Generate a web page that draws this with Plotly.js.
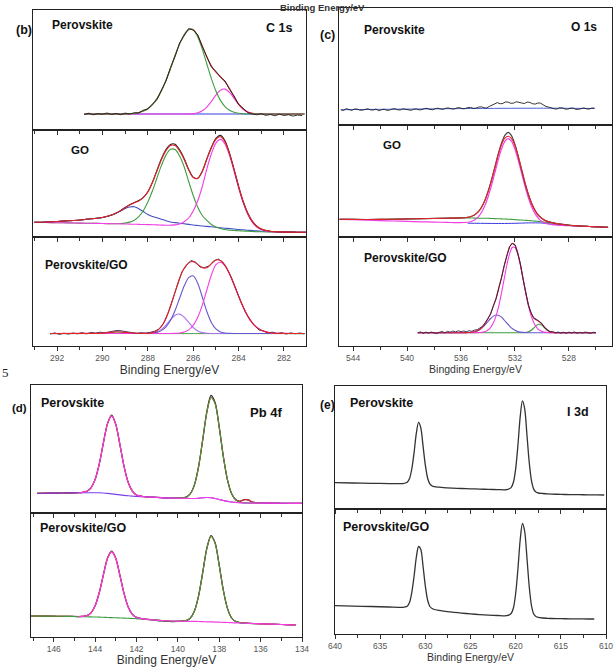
<!DOCTYPE html>
<html><head><meta charset="utf-8">
<script src="https://cdn.plot.ly/plotly-3.0.1.min.js"></script>
<style>html,body{margin:0;padding:0;background:#fff;}#chart{width:615px;height:667px;}</style>
</head><body><div id="chart"></div>
<script>
// ---------- (b) C 1s ----------
const b1E=[290.8,290.4,290.0,289.6,289.2,288.8,288.4,288.2,288.0,287.8,287.6,287.4,287.2,287.0,286.8,286.6,286.4,286.2,286.0,285.8,285.6,285.4,285.2,285.0,284.8,284.6,284.4,284.2,284.0,283.8,283.6,283.4,283.0,282.6,282.2,281.8,281.4,281.1];
const b1Green=[16,16,16,16,16,16.3,17.5,18.9,21.3,25.3,31.1,39.2,49.6,61.6,74.3,86.1,95.3,100.3,100.1,93.1,80.9,66.0,51.4,39.0,29.6,23.4,19.7,17.7,16.7,16.3,16,16,16,16,16,16,16,16];
const b1Pink=[16,16,16,16,16,16,16,16,16,16,16,16,16,16,16,16,16,16.1,16.4,17.2,19.2,22.9,28.5,34.9,39.8,40.9,37.7,31.7,25.5,20.8,18.0,16.7,16,16,16,16,16,16];
const b1Fit=[16,16,16,16,16,16.3,17.5,18.9,21.3,25.3,31.1,39.2,49.6,61.6,74.3,86.1,95.3,100.4,100.5,94.3,84.1,72.9,63.9,57.9,53.4,48.3,41.4,33.4,26.2,21.1,18.0,16.7,16,16,16,16,16,16];
const b1BgE=[290.8,281.1];
const b1Bg=[16,16];
const b1RawE=[290.8,290.6,290.4,290.2,290.0,289.8,289.6,289.4,289.2,289.0,288.8,288.6,288.4,288.2,288.0,287.8,287.6,287.4,287.2,287.0,286.8,286.6,286.4,286.2,286.0,285.8,285.6,285.4,285.2,285.0,284.8,284.6,284.4,284.2,284.0,283.8,283.6,283.4,283.2,283.0,282.8,282.6,282.4,282.2,282.0,281.8,281.6,281.4,281.2];
const b1Raw=[15.5,16.8,15.2,16.4,15.8,17.0,15.6,16.6,15.3,16.9,16.0,17.2,17.0,19.8,21.0,26.2,30.5,40.0,49.0,62.5,73.6,87.0,94.6,101.5,100.0,95.2,83.5,73.8,63.2,58.6,52.7,49.1,40.6,34.0,25.5,21.8,17.4,16.0,15.2,16.3,14.6,15.5,14.2,15.8,14.5,15.3,13.9,15.0,14.4];

const b2E=[293.0,292.5,292.0,291.5,291.0,290.5,290.0,289.5,289.2,289.0,288.8,288.6,288.4,288.2,288.0,287.8,287.6,287.4,287.2,287.0,286.8,286.6,286.4,286.2,286.0,285.8,285.6,285.4,285.2,285.0,284.8,284.6,284.4,284.2,284.0,283.8,283.6,283.4,283.2,283.0,282.6,282.2,281.8,281.4,281.0];
const b2Green=[14.7,14.5,14.3,14.1,13.9,13.7,13.5,13.25,13.45,13.86,14.86,16.81,20.43,26.3,34.9,45.95,58.8,71.6,81.9,87.7,87.4,81.1,70.3,55.5,41.5,29.8,21.5,16.6,12.5,10.0,8.5,7.55,6.8,6.5,6.2,6.0,5.7,5.5,5.3,5.2,5.0,4.95,4.85,4.75,4.7];
const b2Pink=[14.7,14.5,14.3,14.1,13.9,13.7,13.5,13.25,13.1,13.0,12.9,12.75,12.65,12.5,12.4,12.25,12.1,11.9,11.7,11.83,12.09,13.03,15.28,19.0,26.0,36.2,50.5,68.2,83.2,93.95,97.6,93.15,81.6,65.9,49.2,34.35,22.8,14.86,9.98,7.33,5.33,4.95,4.85,4.75,4.7];
const b2Blue=[14.7,15.0,15.5,16.2,17.0,18.2,19.5,22.8,26.0,28.5,30.0,30.3,28.3,25.5,22.5,20.5,19.3,17.8,16.2,15.0,14.4,13.8,13.2,12.6,12.0,11.5,11.0,10.6,10.2,9.7,9.3,8.8,8.4,8.0,7.5,7.2,6.8,6.5,6.1,5.8,5.4,5.1,4.9,4.8,4.7];
const b2Fit=[14.7,15.0,15.5,16.2,17.0,18.2,19.5,22.8,26.35,29.36,31.96,34.36,36.08,39.3,45.0,54.2,66.0,77.5,86.4,91.5,91.5,86.1,77.6,67.0,59.5,58.5,65.5,77.8,89.1,97.6,100.2,95.1,83.2,67.4,50.5,35.55,23.9,15.86,10.78,7.93,5.73,5.1,4.9,4.8,4.7];
const b2Raw=[14.7,15.0,15.5,16.2,17.0,18.2,19.5,22.8,26.4,29.5,32.2,34.6,36.4,39.6,45.3,54.6,66.5,78.2,87.4,92.6,92.8,87.2,78.5,67.6,59.9,58.8,65.8,78.2,89.7,98.6,101.6,96.3,83.9,67.8,50.7,35.7,24.0,15.9,10.8,7.9,5.7,5.1,4.9,4.8,4.7];

const b3E=[292.3,291.0,290.0,289.6,289.4,289.2,288.8,288.4,288.0,287.8,287.6,287.4,287.2,287.0,286.8,286.6,286.4,286.2,286.0,285.8,285.6,285.4,285.2,285.0,284.8,284.6,284.4,284.2,284.0,283.8,283.6,283.4,283.2,283.0,282.8,282.6,282.4,282.2,281.6,281.1];
const b3Blue=[12.5,12.5,12.5,12.5,12.5,12.5,12.5,12.5,12.6,12.9,13.6,15.4,19.1,25.7,35.5,47.8,59.9,68.4,70.2,62.8,49.0,34.5,23.6,17.1,14.1,13.0,12.7,12.55,12.5,12.5,12.5,12.5,12.5,12.5,12.5,12.5,12.5,12.5,12.5,12.5];
const b3Violet=[12.5,12.5,12.5,12.5,12.5,12.5,12.5,12.55,12.6,13.0,14.1,16.6,20.9,26.4,30.8,31.9,28.9,23.6,18.5,15.1,13.4,12.75,12.55,12.5,12.5,12.5,12.5,12.5,12.5,12.5,12.5,12.5,12.5,12.5,12.5,12.5,12.5,12.5,12.5,12.5];
const b3Pink=[12.5,12.5,12.5,12.5,12.5,12.5,12.5,12.5,12.5,12.5,12.5,12.5,12.5,12.5,12.6,13.0,13.9,16.1,20.7,28.7,40.9,56.0,71.0,81.4,83.8,80.1,72.1,61.3,49.7,38.9,29.9,23.2,18.6,15.7,14.1,13.2,12.8,12.6,12.5,12.5];
const b3Green=[12.3,12.4,12.7,13.5,14.0,13.8,13.0,12.6,12.4,12.4,12.4,12.4,12.4,12.4,12.4,12.4,12.4,12.4,12.4,12.4,12.4,12.4,12.4,12.4,12.4,12.4,12.4,12.4,12.4,12.4,12.4,12.4,12.4,12.4,12.4,12.4,12.4,12.4,12.3,12.2];
const b3Fit=[12.5,12.6,12.9,13.7,14.2,14.0,13.2,12.8,12.7,13.4,15.2,19.5,27.5,39.65,53.9,67.7,77.7,83.1,84.4,81.6,78.3,78.25,82.15,86.0,85.4,80.6,72.3,61.3,49.7,38.9,29.9,23.2,18.6,15.7,14.1,13.2,12.8,12.6,12.5,12.5];
const b3RawE=[292.3,292.1,291.9,291.7,291.5,291.3,291.1,290.9,290.7,290.5,290.3,290.1,289.9,289.7,289.5,289.3,289.1,288.9,288.7,288.5,288.3,288.1,287.9,287.7,287.5,287.3,287.1,286.9,286.7,286.5,286.3,286.1,285.9,285.7,285.5,285.3,285.1,284.9,284.7,284.5,284.3,284.1,283.9,283.7,283.5,283.3,283.1,282.9,282.7,282.5,282.3,282.1,281.9,281.7,281.5,281.3,281.1];
const b3Raw=[12.0,13.1,11.6,12.8,11.9,13.0,12.2,13.4,12.1,13.6,12.9,13.8,13.2,14.4,15.0,15.6,14.8,14.0,13.2,12.6,13.3,12.8,13.6,14.8,17.0,23.0,33.5,47.0,61.5,74.0,80.5,85.5,84.0,79.0,78.5,80.0,85.0,87.0,84.0,77.0,67.5,55.0,44.5,34.0,26.5,20.5,16.0,15.0,13.2,13.8,12.4,13.3,12.0,13.1,12.3,13.0,12.2];

// ---------- (c) O 1s ----------
const c1RawE=[544.9,544.7,544.5,544.3,544.1,543.9,543.7,543.5,543.3,543.1,542.9,542.7,542.5,542.3,542.1,541.9,541.7,541.5,541.3,541.1,540.9,540.7,540.5,540.3,540.1,539.9,539.7,539.5,539.3,539.1,538.9,538.7,538.5,538.3,538.1,537.9,537.7,537.5,537.3,537.1,536.9,536.7,536.5,536.3,536.1,535.9,535.7,535.5,535.3,535.1,534.9,534.7,534.5,534.3,534.1,533.9,533.7,533.5,533.3,533.1,532.9,532.7,532.5,532.3,532.1,531.9,531.7,531.5,531.3,531.1,530.9,530.7,530.5,530.3,530.1,529.9,529.7,529.5,529.3,529.1,528.9,528.7,528.5,528.3,528.1,527.9,527.7,527.5,527.3,527.1,526.9,526.7,526.5,526.3,526.1];
const c1Raw=[15.2,14.5,16.4,15.4,14.6,16.0,15.9,14.9,14.8,15.6,16.2,15.1,15.0,15.9,14.3,15.2,15.8,14.7,14.9,16.0,16.3,15.2,15.1,16.2,15.9,15.0,14.7,15.8,16.0,15.1,15.4,16.5,16.6,15.6,15.2,16.4,16.8,15.9,15.8,16.9,17.0,16.1,16.0,17.1,17.3,16.3,16.4,17.4,17.6,16.7,16.8,17.9,18.2,17.2,17.0,18.6,19.8,21.5,22.4,21.2,21.6,23.1,22.8,21.7,21.9,23.3,23.0,22.0,21.5,22.9,22.6,21.3,20.9,22.1,21.8,20.0,18.5,17.9,17.0,16.2,16.0,17.1,17.2,16.0,15.8,16.8,16.9,15.7,15.6,16.7,17.1,16.2,15.9,17.0,16.8];
const c1BgE=[544.9,537.6,534.0,529.4,526.1];
const c1Bg=[15.3,16.2,16.6,16.8,16.5];

const c2E=[545.0,544.0,543.0,542.0,541.0,540.0,539.0,538.0,537.0,536.5,536.0,535.5,535.25,535.0,534.75,534.5,534.25,534.0,533.75,533.5,533.25,533.0,532.75,532.5,532.25,532.0,531.75,531.5,531.25,531.0,530.75,530.5,530.25,530.0,529.75,529.5,529.25,529.0,528.5,528.0,527.5,527.0,526.5,526.0,525.5,525.1];
const c2Pink=[17.7,17.3,16.8,16.4,16.0,15.6,15.2,14.9,14.6,14.4,14.33,14.77,15.5,17.0,19.7,24.2,30.75,39.8,51.05,63.8,76.75,87.9,95.65,98.3,95.55,87.7,76.4,63.3,50.4,39.0,29.8,23.1,18.45,15.6,13.9,12.97,12.4,12.03,11.6,11.3,11.0,10.75,10.5,10.2,9.95,9.7];
const c2Green=[17.7,17.6,17.5,17.6,17.8,18.05,18.3,18.55,18.8,18.87,18.93,19.0,18.95,18.9,18.85,18.8,18.75,18.7,18.55,18.4,18.25,18.1,17.95,17.8,17.6,17.4,17.15,16.95,16.7,16.5,16.2,15.9,15.6,15.3,14.85,14.4,13.95,13.5,12.65,11.8,11.3,10.8,10.5,10.2,9.95,9.7];
const c2Fit=[17.7,17.6,17.5,17.6,17.8,18.05,18.3,18.55,18.8,18.87,19.06,19.77,20.55,22.1,24.8,29.3,35.85,44.9,56.05,68.7,81.55,92.2,98.8,100.8,98.4,91.5,80.45,67.25,54.2,42.7,33.3,26.4,21.55,18.5,16.45,15.17,14.3,13.63,12.65,11.8,11.3,10.8,10.5,10.2,9.95,9.7];
const c2Raw=[17.7,17.6,17.5,17.6,17.8,18.05,18.3,18.55,18.8,18.87,19.06,19.77,20.55,22.1,24.8,29.3,35.9,45.2,56.6,69.5,82.6,93.8,101.6,104.6,101.2,92.6,80.2,66.6,53.5,42.2,33.0,26.3,21.5,18.5,16.45,15.17,14.3,13.63,12.65,11.8,11.3,10.8,10.5,10.2,9.95,9.7];
const c2BlueE=[535.5,534.0,533.0,532.0,531.0,530.0,529.5,528.5,527.0,525.1];
const c2Blue=[13.8,13.6,13.5,13.7,14.1,14.0,13.2,12.0,10.8,9.7];

const c3E=[539.2,538.8,538.4,538.0,537.6,537.2,536.8,536.4,536.0,535.6,535.2,534.8,534.6,534.4,534.2,534.0,533.8,533.6,533.4,533.2,533.0,532.8,532.6,532.4,532.2,532.0,531.8,531.6,531.4,531.2,531.0,530.8,530.6,530.4,530.2,530.0,529.8,529.6,529.4,529.2,528.8,528.4,528.0,527.6,527.2,526.8,526.4,526.0];
const c3Pink=[13.3,13.3,13.3,13.3,13.3,13.3,13.3,13.3,13.3,13.3,13.3,13.35,13.5,13.85,14.55,15.97,18.7,23.3,30.2,40.2,52.9,67.0,81.0,92.2,98.5,98.5,92.2,81.0,67.0,52.9,40.2,30.2,23.3,18.7,15.97,14.55,13.85,13.5,13.35,13.3,13.3,13.3,13.3,13.3,13.3,13.3,13.3,13.3];
const c3Blue=[13.3,13.3,13.3,13.3,13.3,13.3,13.3,13.3,13.3,13.4,13.7,15.1,16.56,18.66,21.4,24.5,27.5,29.85,30.95,30.6,28.8,26.0,22.9,19.95,17.5,15.74,14.57,13.9,13.6,13.4,13.3,13.3,13.3,13.3,13.3,13.3,13.3,13.3,13.3,13.3,13.3,13.3,13.3,13.3,13.3,13.3,13.3,13.3];
const c3Green=[13.3,13.3,13.3,13.3,13.3,13.3,13.3,13.3,13.3,13.3,13.3,13.3,13.3,13.3,13.3,13.3,13.3,13.3,13.3,13.3,13.3,13.3,13.3,13.3,13.3,13.3,13.3,13.3,13.36,13.57,14.24,15.75,18.15,20.6,21.7,20.6,18.15,15.75,14.24,13.57,13.3,13.3,13.3,13.3,13.3,13.3,13.3,13.3];
const c3Fit=[13.3,13.3,13.3,13.3,13.3,13.3,13.3,13.3,13.3,13.4,13.7,15.15,16.8,19.2,22.65,27.2,32.9,39.85,47.85,57.5,68.4,79.7,90.6,98.85,102.7,100.9,93.5,81.6,67.4,53.3,41.1,32.65,28.15,26.0,24.4,21.85,18.7,15.95,14.24,13.57,13.3,13.3,13.3,13.3,13.3,13.3,13.3,13.3];
const c3RawE=[539.2,539.0,538.8,538.6,538.4,538.2,538.0,537.8,537.6,537.4,537.2,537.0,536.8,536.6,536.4,536.2,536.0,535.8,535.6,535.4,535.2,535.0,534.8,534.6,534.4,534.2,534.0,533.8,533.6,533.4,533.2,533.0,532.8,532.6,532.4,532.2,532.0,531.8,531.6,531.4,531.2,531.0,530.8,530.6,530.4,530.2,530.0,529.8,529.6,529.4,529.2,529.0,528.8,528.6,528.4,528.2,528.0,527.8,527.6,527.4,527.2,527.0,526.8,526.6,526.4,526.2,526.0];
const c3Raw=[13.0,14.2,12.6,13.9,12.9,14.0,13.1,12.4,13.7,14.5,13.2,14.6,13.8,15.0,14.1,15.2,14.3,15.0,14.2,15.3,14.6,16.0,16.2,17.6,19.8,23.5,27.6,32.0,40.5,47.0,58.4,68.0,80.5,90.0,99.5,102.3,101.2,92.8,82.2,66.8,54.0,40.5,33.2,27.5,26.6,24.0,22.4,18.2,16.5,14.0,14.6,13.1,14.0,12.8,13.8,12.6,13.9,13.0,14.1,12.7,13.6,12.9,14.0,13.2,12.5,13.8,13.1];

// ---------- (d) Pb 4f ----------
const d1E=[146.8,146.4,146.0,145.6,145.2,144.8,144.6,144.4,144.2,144.0,143.8,143.6,143.4,143.2,143.0,142.8,142.6,142.4,142.2,142.0,141.6,141.2,140.8,140.4,140.0,139.8,139.6,139.4,139.2,139.0,138.8,138.6,138.4,138.2,138.0,137.8,137.6,137.4,137.2,137.0,136.8,136.6,136.4,136.0,135.6,135.2,134.8,134.4,134.0];
const d1Bg=[19.7,19.8,19.9,20.0,20.1,20.2,20.25,20.3,20.3,20.3,20.2,20.0,19.6,19.1,18.6,18.1,17.6,17.2,16.9,16.6,16.2,15.8,15.3,14.9,14.8,14.7,14.6,14.5,14.5,14.8,15.2,15.5,15.3,14.5,13.5,12.5,11.6,11.0,10.6,10.3,10.1,10.0,9.95,9.9,9.85,9.8,9.75,9.7,9.7];
const d1Pink=[19.7,19.8,19.9,20.0,20.1,20.26,20.6,21.74,25.2,33.6,49.0,70.1,89.4,97.1,88.4,68.2,46.4,30.5,21.8,18.04,16.26,15.8,15.3,14.9,14.8,14.7,14.6,14.5,14.5,14.8,15.2,15.5,15.3,14.5,13.5,12.5,11.6,11.0,10.6,10.3,10.1,10.0,9.95,9.9,9.85,9.8,9.75,9.7,9.7];
const d1Green=[19.7,19.8,19.9,20.0,20.1,20.2,20.25,20.3,20.3,20.3,20.2,20.0,19.6,19.1,18.6,18.1,17.6,17.2,16.9,16.6,16.2,15.8,15.3,14.9,14.8,15.0,15.9,19.25,28.1,46.1,72.8,100.4,115.6,109.4,85.4,56.1,32.8,19.3,13.2,10.95,10.1,10.0,9.95,9.9,9.85,9.8,9.75,9.7,9.7];
const d1Fit=[19.7,19.8,19.9,20.0,20.1,20.26,20.6,21.74,25.2,33.6,49.0,70.1,89.4,97.1,88.4,68.2,46.4,30.5,21.8,18.04,16.26,15.8,15.3,14.9,14.8,15.0,15.9,19.25,28.1,46.1,72.8,100.4,115.6,109.4,85.4,56.1,32.8,19.3,13.2,11.6,13.3,13.1,11.0,9.9,9.85,9.8,9.75,9.7,9.7];
const d1Raw=[19.7,19.8,19.9,20.0,20.1,20.26,20.6,21.74,25.2,33.6,49.0,70.1,89.6,97.8,88.6,68.2,46.4,30.5,21.8,18.04,16.26,15.8,15.3,14.9,14.8,15.0,15.9,19.25,28.1,46.3,73.3,101.5,117.6,110.5,85.8,56.1,32.8,19.3,13.2,11.6,13.3,13.1,11.0,9.9,9.85,9.8,9.75,9.7,9.7];

const d2E=[147.1,146.6,146.0,145.6,145.2,144.8,144.6,144.4,144.2,144.0,143.8,143.6,143.4,143.2,143.0,142.8,142.6,142.4,142.2,142.0,141.6,141.2,140.8,140.4,140.0,139.8,139.6,139.4,139.2,139.0,138.8,138.6,138.4,138.2,138.0,137.8,137.6,137.4,137.2,137.0,136.6,136.2,135.8,135.4,135.0,134.6,134.3];
const d2Pink=[21.0,20.9,20.8,20.7,20.6,20.45,20.6,21.4,24.2,31.2,44.25,62.1,78.6,85.35,78.3,61.45,43.3,29.9,22.6,19.6,17.85,17.2,16.5,16.0,15.8,15.75,15.7,15.6,15.55,15.5,15.35,15.2,15.1,14.95,14.8,14.65,14.5,14.3,14.15,14.0,13.7,13.35,13.05,12.8,12.5,12.2,12.0];
const d2Green=[21.0,20.9,20.8,20.7,20.6,20.4,20.3,20.2,20.1,20.0,19.85,19.7,19.5,19.35,19.2,19.05,18.9,18.7,18.5,18.4,17.8,17.2,16.5,16.0,15.8,15.9,16.5,18.9,25.95,40.9,64.05,88.3,100.8,93.65,71.3,46.35,28.4,19.0,15.4,14.3,13.7,13.35,13.05,12.8,12.5,12.2,12.0];
const d2Fit=[21.0,20.9,20.8,20.7,20.6,20.45,20.6,21.4,24.2,31.2,44.25,62.1,78.6,85.35,78.3,61.45,43.3,29.9,22.6,19.6,17.85,17.2,16.5,16.0,15.8,15.9,16.5,18.9,25.95,40.9,64.05,88.3,100.8,93.65,71.3,46.35,28.4,19.0,15.4,14.3,13.7,13.35,13.05,12.8,12.5,12.2,12.0];
const d2Raw=[21.0,20.9,20.8,20.7,20.6,20.45,20.6,21.4,24.2,31.3,44.5,62.4,79.0,85.8,78.6,61.6,43.4,29.9,22.6,19.6,17.85,17.0,16.0,15.5,15.6,15.9,16.5,18.9,26.1,41.2,64.6,88.9,101.5,94.2,71.6,46.5,28.4,19.0,15.4,14.3,13.7,13.35,13.05,12.8,12.5,12.2,12.0];

// ---------- (e) I 3d ----------
const e1E=[640,638,636,634,633,632.5,632,631.75,631.5,631.25,631,630.75,630.5,630.25,630,629.75,629.5,629.25,629,628.5,628,627,626,625,624,623,622,621,620.5,620.25,620,619.75,619.5,619.25,619,618.75,618.5,618.25,618,617.75,617.5,617,616.5,616,615,614,613,612,611,610.2];
const e1I=[26.3,26.0,25.7,25.4,25.3,25.4,26.8,30.5,40.0,56.1,75.6,86.6,81.1,62.8,43.9,31.0,25.1,23.0,22.3,21.8,21.4,20.9,20.5,20.2,19.9,19.6,19.4,19.3,21.4,26.7,40.2,63.8,92.1,108.1,100.2,74.0,46.7,28.3,19.9,16.9,16.0,15.5,15.1,14.9,14.6,14.4,14.3,14.2,14.1,14.0];
const e2E=[640,638,636,634,633,632.5,632,631.75,631.5,631.25,631,630.75,630.5,630.25,630,629.75,629.5,629.25,629,628.5,628,627,626,625,624,623,622,621,620.5,620.25,620,619.75,619.5,619.25,619,618.75,618.5,618.25,618,617.75,617.5,617,616.5,616,615,614,613,612,611.3];
const e2I=[28.3,27.9,27.5,27.0,26.7,26.6,27.8,31.5,41.5,57.5,76.5,87.5,84.5,67.5,48.0,34.0,27.5,25.5,24.5,23.6,22.9,21.8,20.9,20.1,19.4,18.9,18.5,18.3,20.5,26.0,40.5,65.0,94.0,110.5,102.5,76.0,47.5,28.5,20.0,17.5,16.6,16.0,15.7,15.5,15.3,15.2,15.1,15.0,15.0];

// ---------- labels ----------
const xTitleB='Binding Energy/eV', xTitleC='Bingding Energy/eV';
const sampleLabels=['Perovskite','GO','Perovskite/GO'];
const coreLabels=['C 1s','O 1s','Pb 4f','I 3d'];
const panelLetters=['(b)','(c)','(d)','(e)'];

// ---------- colours ----------
const RAW='#1e1e1e', RED='#e4232a', GREEN='#3f9c3f', PINK='#f23ee2', BLUE='#3a3ae0', BLUE2='#3f4fc2', SLATE='#6657d0', VIOLET='#a874f2', PURPLE='#7a3fe6', ILINE='#333';

const W=615,H=667;
const subplots=[
 {n:1,x:[33,306],y:[10,130],xr:[293.06,281.03],yr:[0,120],t0:282,dt:2,mdt:1,lab:false},
 {n:2,x:[33,306],y:[130,237],xr:[293.06,281.03],yr:[0,107],t0:282,dt:2,mdt:1,lab:false},
 {n:3,x:[33,306],y:[237,346],xr:[293.06,281.03],yr:[0,109],t0:282,dt:2,mdt:1,lab:true,title:xTitleB,tsize:12},
 {n:4,x:[339,612],y:[8,125],xr:[545.04,524.81],yr:[0,117],t0:528,dt:4,mdt:2,lab:false},
 {n:5,x:[339,612],y:[125,237],xr:[545.04,524.81],yr:[0,112],t0:528,dt:4,mdt:2,lab:false},
 {n:6,x:[339,612],y:[237,346],xr:[545.04,524.81],yr:[0,109],t0:528,dt:4,mdt:2,lab:true,title:xTitleC,tsize:10.5},
 {n:7,x:[31,302],y:[385,513],xr:[147.1,134.0],yr:[0,128],t0:134,dt:2,mdt:1,lab:false},
 {n:8,x:[31,302],y:[513,637],xr:[147.1,134.0],yr:[0,124],t0:134,dt:2,mdt:1,lab:true,title:xTitleB,tsize:12},
 {n:9,x:[335,606],y:[386,509],xr:[640,610],yr:[0,123],t0:610,dt:5,mdt:2.5,lab:false},
 {n:10,x:[335,606],y:[509,634],xr:[640,610],yr:[0,125],t0:610,dt:5,mdt:2.5,lab:true,title:xTitleB,tsize:10.5}
];

function tr(n,E,V,color,width,smooth){
  const s=n===1?'':String(n);
  return {type:'scatter',mode:'lines',x:E,y:V,xaxis:'x'+s,yaxis:'y'+s,hoverinfo:'skip',showlegend:false,
    line:smooth?{color:color,width:width,shape:'spline',smoothing:0.8}:{color:color,width:width}};
}
const traces=[
 tr(1,b1BgE,b1Bg,BLUE,1,false), tr(1,b1E,b1Pink,PINK,1.1,true), tr(1,b1E,b1Fit,RED,1.1,true), tr(1,b1E,b1Green,GREEN,1.1,true), tr(1,b1RawE,b1Raw,RAW,0.9,false),
 tr(2,b2E,b2Blue,BLUE2,1.1,true), tr(2,b2E,b2Green,GREEN,1.1,true), tr(2,b2E,b2Pink,PINK,1.1,true), tr(2,b2E,b2Raw,RAW,1.1,true), tr(2,b2E,b2Fit,RED,1.1,true),
 tr(3,b3E,b3Green,GREEN,1,true), tr(3,b3E,b3Violet,VIOLET,1.1,true), tr(3,b3E,b3Blue,SLATE,1.1,true), tr(3,b3E,b3Pink,PINK,1.1,true), tr(3,b3RawE,b3Raw,'#2a1f4a',0.9,false), tr(3,b3E,b3Fit,RED,1.1,true),
 tr(4,c1BgE,c1Bg,'#4a63d8',1,true), tr(4,c1RawE,c1Raw,RAW,0.9,false),
 tr(5,c2BlueE,c2Blue,BLUE,1,true), tr(5,c2E,c2Green,GREEN,1.1,true), tr(5,c2E,c2Pink,PINK,1.2,true), tr(5,c2E,c2Raw,'#444',1.2,true), tr(5,c2E,c2Fit,RED,1.1,true),
 tr(6,c3E,c3Green,GREEN,1.1,true), tr(6,c3E,c3Blue,SLATE,1.1,true), tr(6,c3E,c3Pink,PINK,1.1,true), tr(6,c3E,c3Fit,RED,1.1,true), tr(6,c3RawE,c3Raw,'#2a1f4a',0.9,false),
 tr(7,d1E,d1Raw,RAW,1.2,true), tr(7,d1E,d1Fit,RED,1.1,true), tr(7,d1E,d1Bg,PURPLE,1.1,true), tr(7,d1E.slice(23,44),d1Green.slice(23,44),GREEN,1.1,true), tr(7,d1E.slice(5),d1Pink.slice(5),PINK,1.2,true),
 tr(8,d2E,d2Raw,RAW,1.2,true), tr(8,d2E,d2Fit,RED,1.1,true), tr(8,d2E.slice(0,42),d2Green.slice(0,42),GREEN,1.1,true), tr(8,d2E.slice(5),d2Pink.slice(5),PINK,1.2,true),
 tr(9,e1E,e1I,ILINE,1.3,true), tr(10,e2E,e2I,ILINE,1.3,true)
];

const layout={width:W,height:H,margin:{l:0,r:0,t:0,b:0},paper_bgcolor:'#fff',plot_bgcolor:'#fff',showlegend:false,
  font:{family:'Liberation Sans, Arial, sans-serif',color:'#222'},annotations:[]};
subplots.forEach(s=>{
  const k=s.n===1?'':String(s.n);
  const xa={domain:[s.x[0]/W,s.x[1]/W],range:s.xr,autorange:false,anchor:'y'+k,showline:true,mirror:true,linecolor:'#222',linewidth:1.2,
    showgrid:false,zeroline:false,ticks:'outside',ticklen:4,tickwidth:1,tickcolor:'#333',tickmode:'linear',tick0:s.t0,dtick:s.dt,
    showticklabels:s.lab,ticklabeloverflow:'allow',tickfont:{size:8.5,color:'#555'},fixedrange:true,
    minor:{ticks:'outside',ticklen:3,tickwidth:1,tickcolor:'#333',tickmode:'linear',tick0:s.t0,dtick:s.mdt,showgrid:false}};
  if(s.title){xa.title={text:s.title,font:{size:s.tsize,color:'#333'},standoff:3};}
  layout['xaxis'+k]=xa;
  layout['yaxis'+k]={domain:[1-s.y[1]/H,1-s.y[0]/H],range:s.yr,autorange:false,anchor:'x'+k,showline:true,mirror:true,linecolor:'#222',linewidth:1.2,
    showgrid:false,zeroline:false,ticks:'',showticklabels:false,fixedrange:true};
});
function ann(text,x,y,size,opts){
  return Object.assign({text:text,x:x/W,y:1-y/H,xref:'paper',yref:'paper',showarrow:false,xanchor:'center',yanchor:'middle',
    font:{size:size,color:'#111',family:'Liberation Sans, Arial, sans-serif',weight:'bold'}},opts||{});
}
layout.annotations=[
 ann(panelLetters[0],24,30,12.5), ann(sampleLabels[0],82,25,12), ann(coreLabels[0],279,28,12.5), ann(sampleLabels[1],80,150,11.5), ann(sampleLabels[2],87,265,12),
 ann(panelLetters[1],327,35,12.5), ann(sampleLabels[0],394,30,12), ann(coreLabels[1],584,27,12), ann(sampleLabels[1],392,145,11.5), ann(sampleLabels[2],405,258,12),
 ann(panelLetters[2],19,408,11.5), ann(sampleLabels[0],72,403,12.5), ann(coreLabels[2],266,412,13), ann(sampleLabels[2],83,528,12.5),
 ann(panelLetters[3],327,405,12), ann(sampleLabels[0],381,403,12.5), ann(coreLabels[3],578,412,12.5), ann(sampleLabels[2],386,527,12.5),
 ann(xTitleB,322,0,9.5,{yanchor:'top',font:{size:9.5,color:'#333',family:'Liberation Sans, Arial, sans-serif',weight:'bold'}}),
 ann('5',5,372,13,{font:{size:13,color:'#222',family:'Liberation Serif, serif'}})
];
Plotly.newPlot('chart',traces,layout,{staticPlot:true,displayModeBar:false});
</script></body></html>
